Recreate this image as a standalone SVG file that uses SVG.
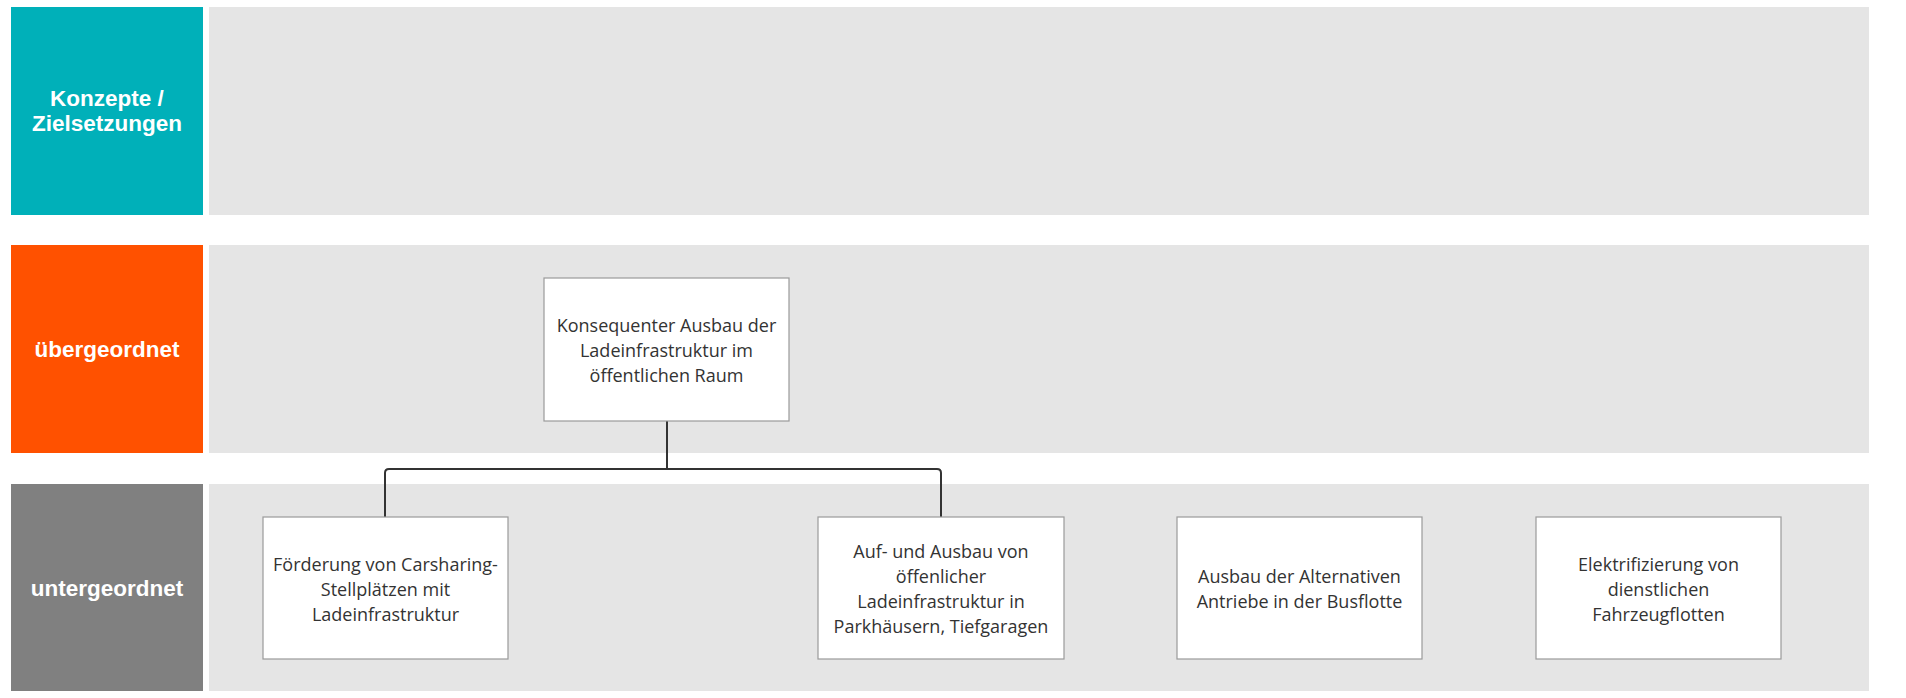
<svg xmlns="http://www.w3.org/2000/svg" width="1906" height="698" viewBox="0 0 1906 698">
<style>
.band{fill:#e5e5e5}
.lbl{font-family:"Liberation Sans",Arial,sans-serif;font-weight:bold;font-size:22.5px;fill:#ffffff;text-anchor:middle}
.box{fill:#ffffff;stroke:#9a9a9a;stroke-width:1.2}
.t{font-family:"Open Sans","Noto Sans",sans-serif;font-size:18px;fill:#333333;text-anchor:middle}
.conn{fill:none;stroke:#333333;stroke-width:2}
</style>
<rect width="1906" height="698" fill="#ffffff"/>
<g id="row-konzepte">
<rect x="11" y="7" width="192" height="208" fill="#00b0b9"/>
<rect class="band" x="209" y="7" width="1660" height="208"/>
<text class="lbl" x="107" y="106">Konzepte /</text>
<text class="lbl" x="107" y="131">Zielsetzungen</text>
</g>
<g id="row-uebergeordnet">
<rect x="11" y="245" width="192" height="208" fill="#ff5100"/>
<rect class="band" x="209" y="245" width="1660" height="208"/>
<text class="lbl" x="107" y="357">übergeordnet</text>
</g>
<g id="row-untergeordnet">
<rect x="11" y="484" width="192" height="207" fill="#808080"/>
<rect class="band" x="209" y="484" width="1660" height="207"/>
<text class="lbl" x="107" y="596" fill="#f2f2f2">untergeordnet</text>
</g>
<g id="connectors">
<path class="conn" d="M667 421 V469"/>
<path class="conn" d="M385 517 V473 Q385 469 389 469 H937 Q941 469 941 473 V517"/>
</g>
<g id="node-konsequenter">
<rect class="box" x="544" y="278" width="245" height="143"/>
<text class="t" x="666.5" y="332">Konsequenter Ausbau der</text>
<text class="t" x="666.5" y="357">Ladeinfrastruktur im</text>
<text class="t" x="666.5" y="382">öffentlichen Raum</text>
</g>
<g id="node-foerderung">
<rect class="box" x="263" y="517" width="245" height="142"/>
<text class="t" x="385.5" y="571">Förderung von Carsharing-</text>
<text class="t" x="385.5" y="596">Stellplätzen mit</text>
<text class="t" x="385.5" y="621">Ladeinfrastruktur</text>
</g>
<g id="node-aufbau">
<rect class="box" x="818" y="517" width="246" height="142"/>
<text class="t" x="941" y="558">Auf- und Ausbau von</text>
<text class="t" x="941" y="583">öffenlicher</text>
<text class="t" x="941" y="608">Ladeinfrastruktur in</text>
<text class="t" x="941" y="633">Parkhäusern, Tiefgaragen</text>
</g>
<g id="node-busflotte">
<rect class="box" x="1177" y="517" width="245" height="142"/>
<text class="t" x="1299.5" y="583">Ausbau der Alternativen</text>
<text class="t" x="1299.5" y="608">Antriebe in der Busflotte</text>
</g>
<g id="node-elektrifizierung">
<rect class="box" x="1536" y="517" width="245" height="142"/>
<text class="t" x="1658.5" y="571">Elektrifizierung von</text>
<text class="t" x="1658.5" y="596">dienstlichen</text>
<text class="t" x="1658.5" y="621">Fahrzeugflotten</text>
</g>
</svg>
